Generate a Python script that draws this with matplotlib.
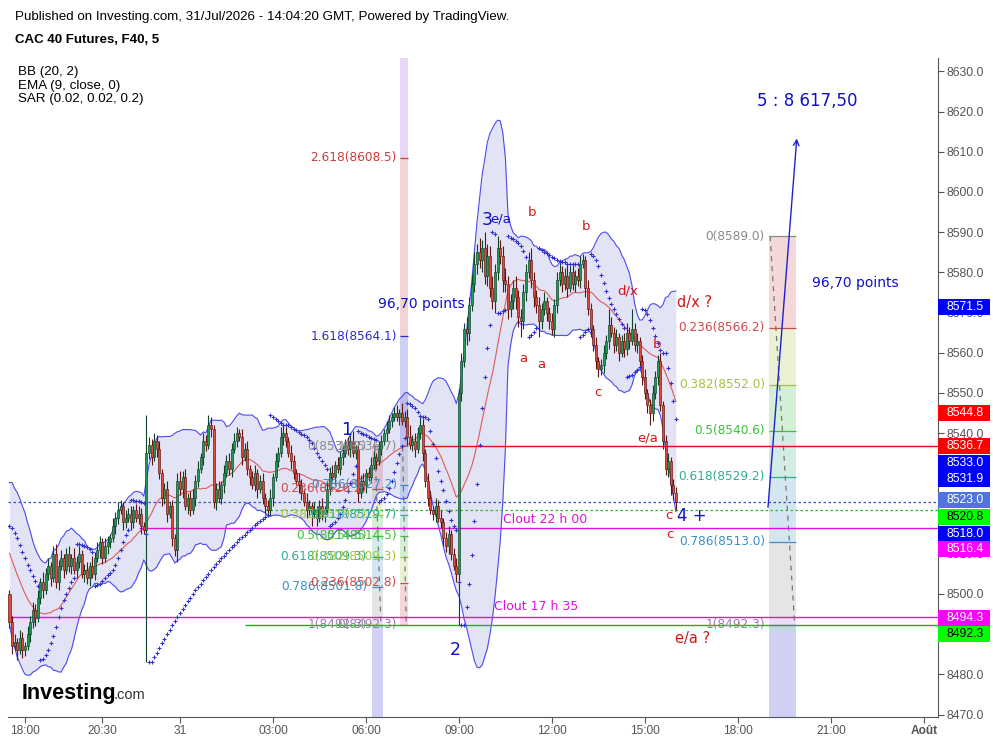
import numpy as np
import matplotlib.pyplot as plt
from matplotlib.patches import Rectangle
from matplotlib.transforms import blended_transform_factory

# 5 min bars, x = bar number (0 = 18:00 on the 30th)
first_bar = -6
first_open = 8500.0
sar_start = 8517.0

# closes before the visible window, only to warm up the bollinger bands
pre_close = [8524, 8522, 8525, 8521, 8519, 8520, 8516, 8517, 8513, 8514,
             8510, 8508, 8509, 8505, 8506, 8502, 8503, 8499, 8500, 8500]

close = [
    8493, 8487, 8488, 8486, 8489, 8486, 8487, 8490, 8493, 8496,
    8494, 8499, 8503, 8501, 8505, 8507, 8504, 8510, 8503, 8507,
    8509, 8506, 8510, 8507, 8509, 8506, 8508, 8510, 8505, 8506,
    8504, 8507, 8505, 8509, 8511, 8513, 8509, 8512, 8513, 8514,
    8517, 8519, 8521, 8522, 8518, 8519, 8520, 8518, 8521, 8519,
    8520, 8517, 8516, 8535, 8537, 8534, 8538, 8536, 8530, 8524,
    8526, 8520, 8522, 8514, 8511, 8528, 8526, 8529, 8522, 8524,
    8521, 8524, 8528, 8531, 8534, 8538, 8537, 8542, 8541, 8523,
    8526, 8524, 8527, 8530, 8533, 8531, 8536, 8538, 8540, 8539,
    8534, 8536, 8531, 8529, 8527, 8530, 8526, 8528, 8524, 8522,
    8521, 8524, 8529, 8533, 8535, 8539, 8540, 8538, 8535, 8533,
    8530, 8528, 8527, 8525, 8523, 8521, 8522, 8520, 8521, 8519,
    8522, 8520, 8521, 8526, 8530, 8529, 8532, 8531, 8534, 8535,
    8537, 8536, 8538, 8535, 8536, 8525, 8528, 8527, 8530, 8529,
    8532, 8534, 8533, 8536, 8538, 8540, 8541, 8543, 8544, 8545,
    8544, 8545, 8543, 8544, 8539, 8537, 8538, 8536, 8540, 8542,
    8535, 8528, 8524, 8521, 8520, 8522, 8519, 8518, 8514, 8512,
    8515, 8510, 8507, 8505, 8550, 8558, 8566, 8565, 8572, 8577,
    8582, 8585, 8583, 8586, 8579, 8584, 8576, 8573, 8580, 8586,
    8584, 8578, 8577, 8571, 8573, 8576, 8574, 8569, 8568, 8575,
    8580, 8583, 8578, 8574, 8572, 8568, 8571, 8573, 8570, 8568,
    8566, 8572, 8578, 8580, 8577, 8579, 8576, 8580, 8577, 8579,
    8578, 8582, 8583, 8576, 8571, 8566, 8562, 8558, 8556, 8557,
    8560, 8563, 8567, 8565, 8562, 8564, 8560, 8563, 8561, 8565,
    8563, 8566, 8562, 8563, 8558, 8554, 8550, 8547, 8545, 8550,
    8554, 8558, 8547, 8538, 8531, 8533, 8527, 8525, 8523,
]

up_wick = [
    1, 1.5, 2, 1, 2, 1.5, 1, 2, 1.5, 2,
    1.5, 2, 1, 2.5, 1.5, 2, 1, 2, 2.5, 1.5,
    2, 1, 1.5, 2, 1, 2.5, 1.5, 2, 1, 1.5,
    2, 1, 2.5, 1.5, 2, 1.5, 1, 2, 1.5, 1,
    2, 1.5, 2, 1.5, 1, 2, 1.5, 2, 1, 1.5,
    2, 1.5, 1, 9.5, 2, 1.5, 2, 1.5, 2, 1,
    1.5, 2, 1, 1.5, 1, 2, 2.5, 1.5, 2, 1,
    1.5, 2, 1.5, 2, 1, 2, 1.5, 2.5, 2, 1,
    1.5, 2, 1, 2, 1.5, 2, 1.5, 2, 1.5, 1,
    2, 1.5, 2, 1, 1.5, 2, 1, 1.5, 2, 1,
    1.5, 2, 1, 2, 1.5, 2.5, 2, 1.5, 1, 2,
    1.5, 1, 2, 1.5, 1, 2, 1.5, 1, 2, 1,
    1.5, 2, 1, 2, 1.5, 2, 1, 2, 1.5, 2,
    1.5, 2, 1.5, 2.5, 1, 2, 1.5, 2, 1, 1.5,
    2, 1.5, 1, 2, 1.5, 1, 2, 1.5, 1, 1.5,
    2, 1, 2.5, 1.5, 2, 3, 1.5, 2, 1.5, 2,
    1.5, 1, 2, 1.5, 1, 2, 1.5, 2, 1, 1.5,
    2, 1, 1.5, 2, 1, 2, 1.5, 3, 2, 2.5,
    3, 2, 3.5, 2, 4, 3, 2.5, 3, 2, 3,
    2, 2.5, 3, 2, 1.5, 2, 3, 1.5, 2, 2,
    2, 2, 3, 2, 1.5, 2, 1.5, 2, 1, 1.5,
    2, 1.5, 2, 2.5, 1.5, 2, 3, 1.5, 2, 1.5,
    2, 2, 1.5, 1, 2, 1.5, 1, 2, 1, 1.5,
    2, 1.5, 4, 2, 1.5, 2, 1, 1.5, 2, 2.5,
    1.5, 5, 1.5, 2, 1, 1.5, 2, 1, 1.5, 2,
    1.5, 1.5, 2, 1, 1.5, 2, 1, 1.5, 1.5,
]

dn_wick = [
    1.5, 2, 1, 2.5, 1, 2, 1.5, 1, 2, 1.5,
    2, 1, 1.5, 2, 1, 1.5, 2, 1, 1.5, 2,
    1, 2, 1, 1.5, 2, 1, 2, 1.5, 1, 2,
    1.5, 2, 1, 1.5, 1, 2, 1.5, 1, 2, 1.5,
    1, 2, 1.5, 1, 2, 1.5, 1, 2, 1.5, 1,
    1.5, 2, 1, 33, 1.5, 2, 1, 2, 1.5, 2,
    1.5, 2, 1, 2, 1.5, 3, 1.5, 2, 1, 2,
    1.5, 1, 2, 1.5, 1, 2, 1.5, 1, 2, 1.5,
    2, 1, 1.5, 2, 1, 1.5, 2, 1, 1.5, 1,
    2, 1, 1.5, 2, 1, 1.5, 2, 1, 1.5, 2,
    1, 1.5, 2, 1, 1.5, 1, 2, 1.5, 1, 2,
    1.5, 1, 2, 1.5, 1, 2, 1.5, 3, 1, 2,
    1, 1.5, 2, 1, 1.5, 1, 2, 1, 1.5, 2,
    1, 1.5, 2, 1, 1.5, 2, 1, 1.5, 2, 1,
    1.5, 1, 2, 1, 1.5, 1, 2, 1, 1.5, 1,
    1, 2, 1, 1.5, 2, 1, 1.5, 2, 1, 1.5,
    2, 1.5, 2, 1, 1.5, 2, 1, 1.5, 2, 1.5,
    2, 1.5, 1, 2, 12.7, 2, 1.5, 3, 2, 1.5,
    2, 2.5, 2, 3, 2, 2.5, 2, 2, 3, 2,
    2, 3, 2, 2.5, 2, 2, 3, 2.5, 4, 2,
    2, 1.5, 2, 2.5, 2, 4, 2, 1.5, 2, 2,
    1.5, 2, 2, 1.5, 2, 1.5, 2, 1, 1.5, 2,
    1.5, 2, 1, 2, 1.5, 2, 1.5, 2, 2, 1.5,
    2, 1.5, 2, 1, 2, 1.5, 2, 1, 2, 1.5,
    2, 1, 1.5, 2, 1.5, 2, 1.5, 2, 3, 2,
    1.5, 2, 1.5, 2, 1.5, 2, 2.5, 1.5, 2,
]

tick_pos = [0, 30, 60, 96, 132, 168, 204, 240, 276, 312, 348]
tick_lbl = ['18:00', '20:30', '31', '03:00', '06:00', '09:00', '12:00',
            '15:00', '18:00', '21:00', 'Août']

# fibonacci tools (levels and the prices written on the chart)
fib_lv = [0, 0.236, 0.382, 0.5, 0.618, 0.786, 1]
fib_a = [8536.7, 8526.2, 8519.7, 8514.5, 8509.3, 8501.8, 8492.3]
fib_c = [8589.0, 8566.2, 8552.0, 8540.6, 8529.2, 8513.0, 8492.3]
fib_e_lv = [0, 0.236, 0.382, 0.5, 0.618, 0.786, 1, 1.618, 2.618]
fib_e = [8492.3, 8502.8, 8509.3, 8514.5, 8519.7, 8527.2, 8536.7, 8564.1, 8608.5]

# price tags on the right scale
tag_price = [8571.5, 8544.8, 8536.7, 8533.0, 8531.9, 8523.0, 8520.8, 8518.0,
             8516.4, 8494.3, 8492.3]
tag_bg = ['#0000ff', '#ff0000', '#ff0000', '#0000ff', '#0000ff', '#4f74e0',
          '#00ff00', '#0000ff', '#ff00ff', '#ff00ff', '#00ff00']
tag_fg = ['white'] * 6 + ['black', 'white', 'white', 'white', 'black']
tag_at = [8571.4, 8545.0, 8536.8, 8532.6, 8528.6, 8523.4, 8519.2, 8514.9,
          8511.2, 8494.0, 8490.0]

fib_col = {0: '#8a8a8a', 0.236: '#cf4a4a', 0.382: '#a3c43a', 0.5: '#3cbf3c',
           0.618: '#2fae90', 0.786: '#3a8fc4', 1: '#8a8a8a', 1.618: '#2b2bd0',
           2.618: '#cf3b3b', 3.618: '#9a40e0'}

YMIN, YMAX = 8469.4, 8633.33
XMIN, XMAX = -6.58, 353.5


def parabolic_sar(hi, lo, start, af0=0.02, step=0.02, amax=0.2):
    sar = np.empty(len(hi))
    sar[0] = start
    up = False
    ep = lo[0]
    af = af0
    for i in range(1, len(hi)):
        s = sar[i - 1] + af * (ep - sar[i - 1])
        if up:
            s = min(s, lo[i - 1], lo[max(i - 2, 0)])
            if lo[i] < s:
                up, s, ep, af = False, ep, lo[i], af0
            elif hi[i] > ep:
                ep, af = hi[i], min(af + step, amax)
        else:
            s = max(s, hi[i - 1], hi[max(i - 2, 0)])
            if hi[i] > s:
                up, s, ep, af = True, ep, hi[i], af0
            elif lo[i] < ep:
                ep, af = lo[i], min(af + step, amax)
        sar[i] = s
    return sar


c = np.array(close, float)
x = np.arange(len(c)) + first_bar
o = np.r_[first_open, c[:-1]]
hi = np.maximum(o, c) + np.array(up_wick)
lo = np.minimum(o, c) - np.array(dn_wick)

allc = np.r_[pre_close, c]
win = np.lib.stride_tricks.sliding_window_view(allc, 20)
off = len(pre_close) - 19
basis = win.mean(1)[off:]
sd = win.std(1)[off:]
sar = parabolic_sar(hi, lo, sar_start)

plt.rcParams['font.family'] = 'DejaVu Sans'
fig = plt.figure(figsize=(9.93, 7.41), dpi=100)
ax = fig.add_axes([8 / 993, 24 / 741, 930 / 993, 659 / 741])
ax.set_xlim(XMIN, XMAX)
ax.set_ylim(YMIN, YMAX)


def draw_fib(x0, x1, lvls, prices, lab_x, ext_lv, ext_to, diag):
    for k in range(1, len(lvls)):
        ax.fill_between([x0, x1], prices[k - 1], prices[k],
                        color=fib_col[lvls[k]], alpha=0.22, lw=0, zorder=0.5)
    ax.fill_between([x0, x1], prices[-1], ext_to, color=fib_col[ext_lv],
                    alpha=0.22, lw=0, zorder=0.5)
    for lv, p in zip(lvls, prices):
        ax.hlines(p, x0, x1, color=fib_col[lv], lw=0.9, zorder=0.6)
        ax.text(lab_x, p, f'{lv:g}({p:.1f})', color=fib_col[lv], ha='right',
                va='center', fontsize=8.7, zorder=5)
    ax.plot(diag[0], diag[1], color='#777777', lw=0.9, ls=(0, (4, 4)), zorder=0.7)


draw_fib(134.3, 138.6, fib_lv, fib_a, 132.4, 1.618, YMIN,
         ([135.5, 137.8], [fib_a[0], fib_a[-1]]))
draw_fib(145.2, 148.3, fib_e_lv, fib_e, 144.0, 3.618, YMAX,
         ([146.2, 147.6], [fib_e[6], fib_e[0]]))
draw_fib(288.0, 298.5, fib_lv, fib_c, 286.5, 1.618, YMIN,
         ([288.5, 298.0], [fib_c[0], fib_c[-1]]))

# bollinger bands + basis
ax.fill_between(x, basis + 2 * sd, basis - 2 * sd, color='#4646c8', alpha=0.15,
                lw=0, zorder=1)
ax.plot(x, basis + 2 * sd, color='#4a4af0', lw=0.8, zorder=1.2)
ax.plot(x, basis - 2 * sd, color='#4a4af0', lw=0.8, zorder=1.2)
ax.plot(x, basis, color='#e05a5a', lw=0.8, zorder=1.2)

# horizontal lines
ax.hlines(8536.7, 154, XMAX, color='#e01010', lw=1, zorder=2)
ax.hlines(8523.0, XMIN, XMAX, color='#3050d0', lw=0.9, ls=(0, (2, 2)), zorder=2)
ax.hlines(8520.8, 93, XMAX, color='#20c020', lw=0.9, ls=(0, (2, 2)), zorder=2)
ax.hlines(8516.4, 44, XMAX, color='#e010e0', lw=1, zorder=2)
ax.hlines(8494.3, XMIN, XMAX, color='#e010e0', lw=1, zorder=2)
ax.hlines(8492.3, 85, XMAX, color='#20b020', lw=1, zorder=2)

# candles
green = c >= o
edge = np.where(green, '#0d4426', '#5e150e')
face = np.where(green, '#1e9a55', '#e04a3a')
ax.vlines(x, lo, hi, colors=edge, lw=0.8, zorder=3)
body = np.maximum(np.abs(c - o), 0.3)
ax.bar(x, body, bottom=np.minimum(o, c), width=0.78, color=face,
       edgecolor=edge, lw=0.45, zorder=3.1)

# parabolic SAR
ax.plot(x, sar, ls='none', marker='+', ms=3.2, mew=0.8, color='#3030d0', zorder=4)

# arrow to the target
ax.annotate('', xy=(298.9, 8614.0), xytext=(287.6, 8520.9),
            arrowprops=dict(arrowstyle='->', color='#2020d0', lw=1), zorder=5)

# wave labels
blue = '#1010c8'
red = '#d01818'
for t, xx, yy, col, fs in [
        ('1', 124.7, 8540.8, blue, 12.5), ('2', 166.5, 8486.1, blue, 12.5),
        ('3', 178.8, 8593.0, blue, 12.5), ('e/a', 184.3, 8593.3, blue, 9.5),
        ('b', 196.3, 8595.0, red, 9.5), ('b', 217.2, 8591.5, red, 9.5),
        ('d/x', 233.4, 8575.4, red, 9.5), ('b', 244.7, 8562.0, red, 9.5),
        ('e/a', 241.2, 8538.8, red, 9.5), ('a', 192.8, 8558.7, red, 9.5),
        ('a', 199.8, 8557.0, red, 9.5), ('c', 221.8, 8550.2, red, 9.5),
        ('c', 249.3, 8519.4, red, 9.5), ('c', 249.7, 8514.9, red, 9.5)]:
    ax.text(xx, yy, t, color=col, fontsize=fs, ha='center', va='center', zorder=5)

ax.text(252.4, 8519.4, '4 +', color=blue, fontsize=12, va='center', zorder=5)
ax.text(252.4, 8572.6, 'd/x ?', color=red, fontsize=10.5, va='center', zorder=5)
ax.text(251.6, 8489.0, 'e/a ?', color=red, fontsize=10.5, va='center', zorder=5)
ax.text(304.7, 8577.4, '96,70 points', color=blue, fontsize=10, va='center', zorder=5)
ax.text(136.7, 8572.1, '96,70 points', color=blue, fontsize=10, va='center', zorder=5)
ax.text(283.4, 8622.6, '5 : 8 617,50', color=blue, fontsize=12, va='center', zorder=5)
ax.text(185.0, 8518.6, 'Clout 22 h 00', color='#e010e0', fontsize=9, va='center', zorder=5)
ax.text(181.6, 8496.8, 'Clout 17 h 35', color='#e010e0', fontsize=9, va='center', zorder=5)

# axes look
for s in ['top', 'left']:
    ax.spines[s].set_visible(False)
for s in ['bottom', 'right']:
    ax.spines[s].set_color('#555555')
ax.yaxis.tick_right()
ax.set_yticks(np.arange(8470, 8631, 10))
ax.set_yticklabels([f'{v:.1f}' for v in np.arange(8470, 8631, 10)],
                   family='Liberation Sans')
ax.set_xticks(tick_pos)
ax.set_xticklabels(tick_lbl, family='Liberation Sans')
ax.get_xticklabels()[-1].set_fontweight('bold')
ax.tick_params(axis='y', length=4, color='#555555', labelcolor='#555555',
               labelsize=8.8, pad=2)
ax.tick_params(axis='x', length=4, color='#555555', labelcolor='#555555',
               labelsize=8.6, pad=1.5)

# price tags
tr = blended_transform_factory(ax.transAxes, ax.transData)
for p, bg, fg, at in zip(tag_price, tag_bg, tag_fg, tag_at):
    ax.add_patch(Rectangle((1.0, at - 2.0), 52 / 930, 4.0, transform=tr,
                           facecolor=bg, edgecolor='none', clip_on=False, zorder=10))
    ax.text(1.0 + 27 / 930, at, f'{p:.1f}', transform=tr, color=fg, ha='center',
            va='center', fontsize=8.8, family='Liberation Sans', clip_on=False,
            zorder=11)

# header and legend
fig.text(15 / 993, 1 - 17 / 741, 'Published on Investing.com, 31/Jul/2026 - 14:04:20 GMT, '
         'Powered by TradingView.', fontsize=9.6, va='center', family='Liberation Sans')
fig.text(15 / 993, 1 - 40 / 741, 'CAC 40 Futures, F40, 5', fontsize=9.5,
         weight='bold', va='center', family='Liberation Sans')
for k, t in enumerate(['BB (20, 2)', 'EMA (9, close, 0)', 'SAR (0.02, 0.02, 0.2)']):
    fig.text(18 / 993, 1 - (72 + 13.5 * k) / 741, t, fontsize=9.6, va='center',
             family='Liberation Sans')
fig.text(22 / 993, 1 - 693 / 741, 'Investing', fontsize=15.5, weight='bold',
         va='center', family='Liberation Sans')
fig.text(114 / 993, 1 - 695 / 741, '.com', fontsize=10.5, color='#333333',
         va='center', family='Liberation Sans')

fig.savefig('out.png', dpi=100)
